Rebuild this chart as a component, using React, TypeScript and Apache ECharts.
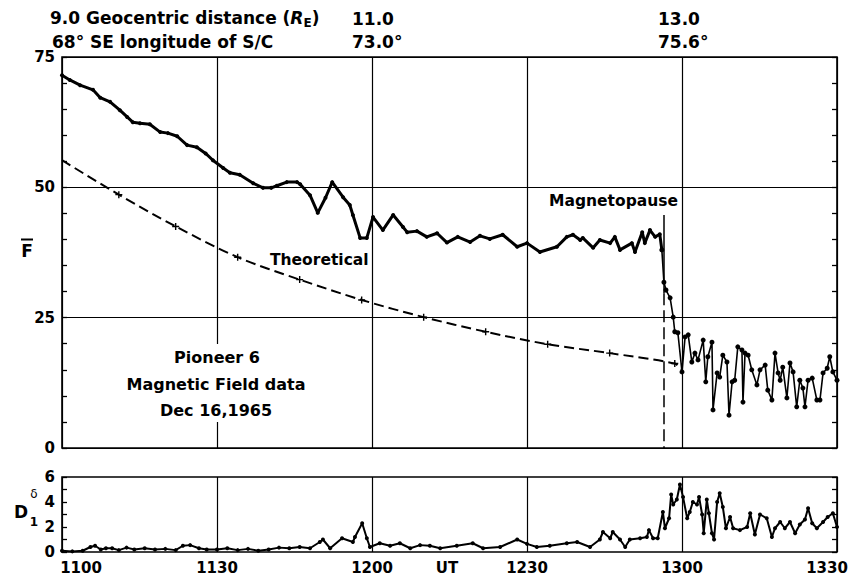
import { useEffect, useRef } from "react";
import * as echarts from "echarts";

// Minutes after 1100 UT; x tick labels every 30 minutes
const xTickLabels = ["1100", "1130", "1200", "1230", "1300", "1330"];

// Field magnitude inside the magnetosphere (gammas)
const fTimeA = [0, 1.5, 3.5, 6.0, 7.4, 9.3, 11.2, 12.6, 13.7, 15.1, 17.0, 19.0, 20.5, 22.3, 24.2, 26.1, 27.8, 29.2, 31.2, 32.5, 34.4, 37.0, 38.9, 40.5, 41.6, 43.5, 45.5, 46.1, 48.0, 49.5, 51.0, 52.3, 54.4, 55.7, 56.3, 57.7, 59.0, 60.2, 62.1, 64.1, 66.0, 66.8, 68.7, 70.6, 72.6, 74.5, 76.6, 79.0, 80.9, 82.8, 85.3, 88.1, 90.0, 92.5, 95.8, 97.7, 98.9, 100.3, 100.8, 102.8, 104.1, 106.1, 107.0, 108.0, 110.3, 110.9, 112.3, 112.8, 113.8, 114.8, 115.7, 116.1];
const fValueA = [71.5, 70.6, 69.6, 68.7, 67.2, 66.4, 64.8, 63.5, 62.5, 62.3, 62.1, 60.6, 60.4, 59.8, 58.1, 57.7, 56.5, 55.2, 53.7, 52.8, 52.4, 50.8, 49.9, 49.9, 50.3, 51.0, 51.0, 50.6, 48.5, 45.1, 48.0, 51.0, 48.1, 46.6, 44.7, 40.3, 40.3, 44.3, 41.8, 44.7, 42.4, 41.4, 41.6, 40.5, 41.2, 39.4, 40.5, 39.5, 40.7, 40.1, 40.9, 38.6, 39.3, 37.6, 38.6, 40.5, 40.9, 39.9, 40.3, 38.4, 39.9, 39.3, 40.5, 38.0, 39.3, 37.6, 41.4, 39.3, 41.8, 40.5, 41.0, 38.0];

// Field magnitude across and beyond the boundary
const fTimeB = [116.1, 116.5, 116.9, 117.7, 118.3, 118.6, 119.2, 120.0, 120.6, 121.2, 121.9, 122.5, 123.1, 124.1, 124.6, 125.0, 125.8, 126.0, 126.8, 127.3, 127.9, 128.7, 129.1, 129.7, 130.2, 130.8, 131.6, 131.8, 132.2, 132.8, 133.5, 134.5, 135.1, 136.1, 136.6, 137.4, 138.0, 138.6, 139.0, 139.5, 140.3, 140.9, 141.5, 142.2, 142.8, 143.4, 143.8, 144.4, 145.2, 146.1, 146.7, 147.3, 148.1, 148.6, 149.2, 150.0];
const fValueB = [38.0, 31.8, 30.3, 28.8, 25.1, 22.3, 22.1, 14.6, 21.3, 21.7, 16.5, 18.2, 16.9, 20.7, 12.7, 17.5, 20.3, 7.3, 14.4, 13.6, 17.8, 16.5, 6.3, 12.7, 13.0, 19.4, 18.8, 8.8, 18.2, 17.8, 15.0, 12.1, 15.0, 15.9, 11.1, 9.2, 18.2, 14.4, 13.0, 15.5, 9.6, 16.3, 14.6, 7.9, 13.0, 11.5, 7.9, 13.0, 13.4, 9.2, 9.2, 14.4, 15.3, 17.5, 14.6, 13.0];

// Theoretical dipole field along the trajectory
const theoTime = [0, 11, 22, 34, 46, 58, 70, 82, 94, 106, 118.6, 120];
const theoValue = [55.2, 48.6, 42.5, 36.6, 32.3, 28.4, 25.1, 22.3, 19.9, 18.2, 16.2, 15.0];

// Magnetopause crossing marker
const mpTime = 116.4;
const mpTop = 44.7;
const mpSplit = 29.7;

// Fluctuation parameter delta D1
const dTime = [0, 2, 4, 5.5, 6.4, 7.5, 8.5, 9.7, 11, 12.5, 14, 16, 18, 20, 22, 23.4, 24.8, 26.5, 28, 30, 32, 34, 36, 38, 40, 42, 44, 46, 48, 49.9, 50.5, 51.9, 54.2, 56.3, 56.7, 58.1, 59.0, 59.6, 61.5, 63.5, 65.4, 67.4, 69.3, 71.2, 73.2, 76.4, 79.5, 81.5, 84.8, 88.1, 90.0, 91.9, 94.4, 97.7, 99.7, 102.2, 104.1, 104.7, 106.1, 106.6, 108.0, 109.0, 109.9, 111.9, 113.2, 113.6, 114.4, 115.3, 116.3, 116.7, 117.5, 117.9, 118.3, 119.0, 119.6, 120.2, 121.0, 121.5, 122.1, 122.9, 123.3, 123.9, 124.2, 124.8, 125.2, 125.8, 126.2, 126.8, 127.3, 127.9, 128.5, 129.3, 129.9, 131.2, 132.6, 133.2, 134.1, 135.1, 136.4, 137.4, 138.0, 139.0, 139.9, 140.9, 141.9, 142.8, 143.8, 144.4, 145.2, 146.1, 147.3, 148.2, 149.2, 150];
const dValue = [0.1, 0.05, 0.1, 0.4, 0.5, 0.2, 0.3, 0.3, 0.15, 0.35, 0.2, 0.3, 0.2, 0.25, 0.15, 0.5, 0.55, 0.3, 0.2, 0.2, 0.3, 0.15, 0.25, 0.1, 0.2, 0.35, 0.3, 0.4, 0.3, 0.8, 1.0, 0.3, 1.1, 0.8, 1.2, 2.3, 1.1, 0.4, 0.7, 0.5, 0.7, 0.3, 0.55, 0.5, 0.3, 0.5, 0.7, 0.3, 0.4, 1.0, 0.65, 0.4, 0.5, 0.7, 0.8, 0.4, 1.0, 1.6, 1.1, 1.6, 1.0, 0.4, 1.0, 1.1, 1.2, 1.75, 1.1, 1.1, 3.2, 1.9, 2.7, 4.6, 3.8, 4.2, 5.4, 4.4, 2.7, 3.2, 4.0, 3.8, 4.4, 3.0, 1.5, 4.2, 3.1, 1.5, 1.0, 4.0, 4.7, 3.6, 1.9, 2.8, 1.9, 1.75, 2.0, 3.1, 1.4, 3.0, 2.7, 1.2, 1.9, 2.4, 1.9, 2.4, 1.5, 2.2, 2.6, 3.5, 2.3, 1.9, 2.4, 2.8, 3.1, 2.0];

const FONT = "DejaVu Sans";
const BLACK = "#000";
const PLUS = "path://M4,0H6V4H10V6H6V10H4V6H0V4H4Z";

function pairs(xs: number[], ys: number[]) {
  return xs.map((x, i) => [x, ys[i]]);
}

function txt(x: number, y: number, text: string, size: number, align = "left", extra: any = {}) {
  return {
    type: "text",
    x,
    y,
    z: 10,
    style: {
      text,
      fill: BLACK,
      fontFamily: FONT,
      fontWeight: "bold",
      fontSize: size,
      align,
      verticalAlign: "middle",
      ...extra,
    },
  };
}

export default function App() {
  const ref = useRef<HTMLDivElement>(null);

  useEffect(() => {
    if (!ref.current) return;
    const chart = echarts.init(ref.current, undefined, { renderer: "svg" });

    const tickStyle = { color: BLACK, width: 1.3 };
    const gridLine = { show: true, lineStyle: { color: BLACK, width: 1.2, type: "solid" } };
    const labelFont = { fontFamily: FONT, fontWeight: "bold", fontSize: 15, color: BLACK };

    const yLeft = (gridIndex: number, max: number, interval: number, minorSplit: number, split: boolean) => ({
      type: "value",
      gridIndex,
      min: 0,
      max,
      interval,
      position: "left",
      axisLine: { show: false },
      axisTick: { show: true, inside: true, length: 5, lineStyle: tickStyle },
      minorTick: { show: true, splitNumber: minorSplit, length: 5, lineStyle: tickStyle },
      axisLabel: { ...labelFont, margin: 7 },
      splitLine: split ? gridLine : { show: false },
    });
    const yRight = (gridIndex: number, max: number, interval: number, minorSplit: number) => ({
      type: "value",
      gridIndex,
      min: 0,
      max,
      interval,
      position: "right",
      axisLine: { show: false },
      axisTick: { show: true, inside: true, length: 5, lineStyle: tickStyle },
      minorTick: { show: true, splitNumber: minorSplit, length: 5, lineStyle: tickStyle },
      axisLabel: { show: false },
      splitLine: { show: false },
    });

    const theoData = theoTime.map((t, i) => ({
      value: [t, theoValue[i]],
      symbol: i === 0 || i === theoTime.length - 1 ? "none" : PLUS,
    }));

    chart.setOption({
      animation: false,
      backgroundColor: "#fff",
      grid: [
        { left: 62, top: 57, width: 775, height: 391, show: true, borderColor: BLACK, borderWidth: 1.6, backgroundColor: "transparent" },
        { left: 62, top: 477, width: 775, height: 75, show: true, borderColor: BLACK, borderWidth: 1.6, backgroundColor: "transparent" },
      ],
      xAxis: [
        {
          type: "value",
          gridIndex: 0,
          min: 0,
          max: 150,
          interval: 30,
          axisLine: { show: false },
          axisTick: { show: false },
          axisLabel: { show: false },
          splitLine: gridLine,
        },
        {
          type: "value",
          gridIndex: 1,
          min: 0,
          max: 150,
          interval: 30,
          axisLine: { show: false },
          axisTick: { show: false },
          splitLine: gridLine,
          axisLabel: {
            ...labelFont,
            margin: 8,
            formatter: (v: number) => {
              const i = Math.round(v / 30);
              if (i === 0) return "{first|" + xTickLabels[i] + "}";
              if (i === xTickLabels.length - 1) return "{last|" + xTickLabels[i] + "}";
              return xTickLabels[i];
            },
            rich: {
              first: { ...labelFont, padding: [0, 0, 0, 38] },
              last: { ...labelFont, padding: [0, 20, 0, 0] },
            },
          },
        },
      ],
      yAxis: [yLeft(0, 75, 25, 5, true), yRight(0, 75, 25, 5), yLeft(1, 6, 2, 2, false), yRight(1, 6, 2, 2)],
      series: [
        {
          type: "line",
          xAxisIndex: 0,
          yAxisIndex: 0,
          data: pairs(fTimeA, fValueA),
          symbol: "circle",
          symbolSize: 4,
          lineStyle: { color: BLACK, width: 3 },
          itemStyle: { color: BLACK },
          z: 3,
        },
        {
          type: "line",
          xAxisIndex: 0,
          yAxisIndex: 0,
          data: pairs(fTimeB, fValueB),
          symbol: "circle",
          symbolSize: 5,
          lineStyle: { color: BLACK, width: 1.6 },
          itemStyle: { color: BLACK },
          z: 3,
          markLine: {
            silent: true,
            symbol: "none",
            label: { show: false },
            lineStyle: { color: BLACK, width: 1.5, type: "solid" },
            data: [
              [{ coord: [mpTime, mpTop] }, { coord: [mpTime, mpSplit] }],
              [{ coord: [mpTime, mpSplit], lineStyle: { color: BLACK, width: 1.5, type: [12, 5] } }, { coord: [mpTime, 0] }],
            ],
          },
        },
        {
          type: "line",
          xAxisIndex: 0,
          yAxisIndex: 0,
          data: theoData,
          smooth: 0.3,
          symbolSize: 7,
          lineStyle: { color: BLACK, width: 2, type: [10, 5] },
          itemStyle: { color: BLACK },
          z: 2,
        },
        {
          type: "line",
          xAxisIndex: 1,
          yAxisIndex: 2,
          data: pairs(dTime, dValue),
          symbol: "circle",
          symbolSize: 4,
          lineStyle: { color: BLACK, width: 2 },
          itemStyle: { color: BLACK },
          z: 3,
        },
      ],
      graphic: [
        txt(50, 18, "9.0 Geocentric distance ({r|R}{s|E})", 17, "left", {
          rich: {
            r: { fontFamily: FONT, fontWeight: "bold", fontStyle: "italic", fontSize: 17, fill: BLACK },
            s: { fontFamily: FONT, fontWeight: "bold", fontSize: 12, fill: BLACK, padding: [10, 0, 0, 0] },
          },
        }),
        txt(352, 19, "11.0", 17),
        txt(658, 19, "13.0", 17),
        txt(52, 42, "68° SE longitude of S/C", 17),
        txt(352, 42, "73.0°", 17),
        txt(658, 42, "75.6°", 17),
        txt(27, 251, "F", 17, "center"),
        { type: "line", z: 10, shape: { x1: 21, y1: 239.5, x2: 33, y2: 239.5 }, style: { stroke: BLACK, lineWidth: 2 } },
        txt(34, 494, "δ", 12, "center", { fontWeight: "normal" }),
        txt(21, 512, "D", 17, "center"),
        txt(34, 522, "1", 12, "center"),
        txt(447, 568, "UT", 15, "center"),
        txt(270, 260, "Theoretical", 15.5),
        txt(678, 201, "Magnetopause", 15.5, "right"),
        { type: "rect", z: 9, shape: { x: 125, y: 344, width: 185, height: 78 }, style: { fill: "#fff" } },
        txt(217, 357, "Pioneer 6", 16, "center"),
        txt(216, 384, "Magnetic Field data", 16, "center"),
        txt(216, 410, "Dec 16,1965", 16, "center"),
      ],
    });

    return () => chart.dispose();
  }, []);

  return (
    <div
      ref={ref}
      style={{ position: "absolute", left: 0, top: 0, width: 858, height: 579, background: "#fff" }}
    />
  );
}
